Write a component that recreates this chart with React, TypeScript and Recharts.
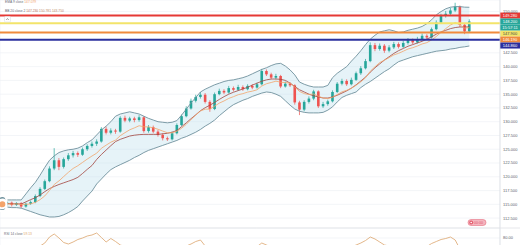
import { ComposedChart, Bar, Line, Area, XAxis, YAxis, CartesianGrid, ReferenceLine } from "recharts"

const opens = [
  114.8, 115.0, 115.3, 114.9, 115.2, 114.6, 115.1, 115.4, 116.5, 117.8,
  119.2, 121.5, 123.0, 121.8, 123.2, 123.9, 124.3, 124.0, 125.0, 125.6,
  126.0, 126.4, 128.7, 128.0, 128.4, 128.2, 130.7, 130.2, 130.6, 130.3,
  130.8, 128.3, 129.0, 128.2, 127.6, 127.0, 126.8, 127.9, 129.4, 131.0,
  132.4, 133.8, 134.5, 134.9, 133.6, 132.3, 135.0, 135.6, 135.3, 136.1,
  135.8, 136.3, 135.9, 136.5, 136.2, 136.8, 139.2, 138.6, 138.0, 138.3,
  136.4, 136.9, 136.6, 133.5, 132.2, 133.6, 134.2, 135.5, 132.8, 133.2,
  133.7, 135.4, 136.9, 137.4, 136.8, 137.6, 138.8, 139.7, 141.0, 143.9,
  143.2, 143.8, 142.9, 143.5, 144.1, 143.6, 144.3, 144.8, 144.4, 145.0,
  145.6, 145.3, 146.8, 148.0, 149.2, 149.6, 150.2, 150.9, 147.6, 146.4,
]
const closes = [
  115.0, 115.3, 114.9, 115.2, 114.6, 115.1, 115.4, 116.5, 117.8, 119.2,
  121.5, 123.0, 121.8, 123.2, 123.9, 124.3, 124.0, 125.0, 125.6, 126.0,
  126.4, 128.7, 128.0, 128.4, 128.2, 130.7, 130.2, 130.6, 130.3, 130.8,
  128.3, 129.0, 128.2, 127.6, 127.0, 126.8, 127.9, 129.4, 131.0, 132.4,
  133.8, 134.5, 134.9, 133.6, 132.3, 135.0, 135.6, 135.3, 136.1, 135.8,
  136.3, 135.9, 136.5, 136.2, 136.8, 139.2, 138.6, 138.0, 138.3, 136.4,
  136.9, 136.6, 133.5, 132.2, 133.6, 134.2, 135.5, 132.8, 133.2, 133.7,
  135.4, 136.9, 137.4, 136.8, 137.6, 138.8, 139.7, 141.0, 143.9, 143.2,
  143.8, 142.9, 143.5, 144.1, 143.6, 144.3, 144.8, 144.4, 145.0, 145.6,
  145.3, 146.8, 148.0, 149.2, 149.6, 150.2, 150.9, 147.6, 146.4, 148.2,
]
const highs = [
  115.3, 115.5, 115.5, 115.4, 115.4, 115.3, 115.7, 116.8, 118.1, 119.5,
  121.9, 125.2, 123.4, 123.5, 124.3, 124.7, 124.6, 125.3, 125.9, 126.4,
  126.8, 129.0, 129.1, 128.8, 128.7, 131.0, 131.1, 130.9, 130.9, 131.2,
  131.0, 129.4, 129.3, 128.5, 127.9, 127.3, 128.2, 129.7, 131.3, 132.8,
  134.2, 134.9, 135.4, 135.2, 133.9, 135.3, 136.0, 135.9, 136.5, 136.4,
  136.7, 136.6, 136.8, 136.8, 137.1, 139.6, 139.5, 138.9, 138.7, 138.5,
  137.3, 137.2, 136.8, 133.8, 133.9, 134.6, 135.8, 135.7, 133.6, 134.0,
  135.7, 137.2, 137.8, 137.7, 138.0, 139.1, 140.1, 141.4, 144.4, 144.3,
  144.2, 144.1, 143.9, 144.5, 144.4, 144.7, 145.2, 145.1, 145.4, 146.0,
  145.9, 147.1, 148.4, 149.6, 150.1, 150.7, 151.6, 151.1, 147.9, 148.6,
]
const lows = [
  114.6, 114.8, 114.6, 114.7, 114.3, 114.4, 114.9, 115.2, 116.3, 117.6,
  119.0, 121.2, 121.2, 121.5, 122.9, 123.5, 123.6, 123.8, 124.7, 125.3,
  125.6, 126.2, 127.7, 127.7, 127.8, 128.0, 129.9, 129.9, 129.9, 130.0,
  128.0, 128.0, 127.9, 127.3, 126.6, 126.5, 126.6, 127.7, 129.2, 130.8,
  132.2, 133.5, 134.2, 133.3, 131.8, 132.1, 134.8, 135.0, 135.1, 135.5,
  135.6, 135.6, 135.7, 135.9, 136.0, 136.6, 138.3, 137.7, 137.7, 136.1,
  136.2, 136.3, 133.1, 131.2, 131.9, 133.3, 133.9, 132.5, 132.5, 132.9,
  133.5, 135.2, 136.6, 136.5, 136.6, 137.4, 138.5, 139.5, 140.8, 142.8,
  142.9, 142.5, 142.6, 143.2, 143.3, 143.4, 144.0, 144.1, 144.2, 144.8,
  144.9, 145.1, 146.6, 147.8, 148.9, 149.3, 149.9, 147.2, 145.9, 146.1,
]

const bbUpper = [
  115.8, 115.8, 115.8, 115.8, 115.8, 116.9, 118.0, 119.0, 120.3, 121.7,
  123.0, 123.8, 124.4, 124.7, 124.9, 125.0, 125.2, 125.6, 126.2, 126.7,
  127.6, 128.5, 129.2, 130.0, 131.0, 131.4, 131.6, 131.8, 131.6, 131.4,
  131.0, 130.6, 130.3, 130.0, 129.9, 129.8, 129.9, 130.2, 131.2, 132.3,
  133.4, 134.4, 135.4, 135.9, 136.3, 136.7, 137.0, 137.3, 137.5, 137.6,
  137.8, 138.0, 138.3, 138.7, 139.1, 139.5, 139.8, 140.2, 140.5, 140.6,
  140.1, 139.4, 138.5, 137.2, 136.8, 136.5, 136.3, 136.3, 136.3, 136.6,
  138.0, 138.8, 139.4, 140.0, 141.0, 141.9, 142.9, 144.0, 145.0, 145.7,
  146.3, 146.5, 146.7, 146.5, 146.2, 146.3, 146.6, 146.8, 147.0, 147.3,
  147.8, 148.5, 149.4, 150.0, 150.5, 150.8, 150.9, 150.9, 150.8, 150.78,
]
const bbBasis = [
  115.15, 115.15, 115.1, 115.1, 115.05, 115.45, 115.85, 116.2, 116.7, 117.3,
  117.85, 118.25, 118.6, 118.9, 119.2, 119.5, 119.9, 120.6, 121.35, 122.05,
  123.15, 124.05, 124.85, 125.65, 126.4, 126.8, 127.1, 127.4, 127.55, 127.65,
  127.7, 127.7, 127.7, 127.7, 127.8, 127.9, 128.1, 128.4, 129.1, 129.8,
  130.55, 131.25, 132.0, 132.55, 133.0, 133.5, 134.05, 134.55, 135.0, 135.35,
  135.65, 135.95, 136.25, 136.65, 137.0, 137.35, 137.6, 137.75, 137.75, 137.7,
  137.5, 137.0, 136.4, 135.8, 135.4, 135.0, 134.7, 134.5, 134.3, 134.3,
  134.5, 134.8, 135.2, 135.6, 136.1, 136.7, 137.4, 138.1, 139.0, 139.8,
  140.5, 141.2, 141.8, 142.4, 142.9, 143.3, 143.7, 144.0, 144.3, 144.6,
  145.0, 145.4, 145.9, 146.3, 146.6, 146.9, 147.1, 147.2, 147.2, 147.23,
]
const bbLower = [
  114.5, 114.5, 114.4, 114.4, 114.3, 114.0, 113.7, 113.4, 113.1, 112.9,
  112.7, 112.7, 112.8, 113.1, 113.5, 114.0, 114.6, 115.6, 116.5, 117.4,
  118.7, 119.6, 120.5, 121.3, 121.8, 122.2, 122.6, 123.0, 123.5, 123.9,
  124.4, 124.8, 125.1, 125.4, 125.7, 126.0, 126.3, 126.6, 127.0, 127.3,
  127.7, 128.1, 128.6, 129.2, 129.7, 130.3, 131.1, 131.8, 132.5, 133.1,
  133.5, 133.9, 134.2, 134.6, 134.9, 135.2, 135.4, 135.3, 135.0, 134.6,
  133.8, 133.0, 132.3, 131.9, 131.7, 131.6, 131.6, 131.6, 131.7, 132.1,
  132.7, 133.6, 134.4, 134.8, 135.1, 135.4, 136.2, 136.8, 137.3, 137.9,
  138.5, 139.1, 139.6, 140.3, 140.9, 141.2, 141.5, 141.8, 142.0, 142.2,
  142.4, 142.6, 142.8, 142.9, 143.0, 143.2, 143.3, 143.5, 143.6, 143.75,
]
const ema9 = [
  115.0, 115.06, 115.03, 115.07, 114.97, 115.0, 115.08, 115.36, 115.85, 116.52,
  117.52, 118.61, 119.25, 120.04, 120.81, 121.51, 122.01, 122.61, 123.21, 123.77,
  124.29, 125.18, 125.74, 126.28, 126.66, 127.47, 128.01, 128.53, 128.88, 129.27,
  129.07, 129.06, 128.89, 128.63, 128.3, 128.0, 127.98, 128.27, 128.81, 129.53,
  130.39, 131.21, 131.95, 132.28, 132.28, 132.83, 133.38, 133.77, 134.23, 134.55,
  134.9, 135.1, 135.38, 135.55, 135.8, 136.48, 136.9, 137.12, 137.36, 137.17,
  137.11, 137.01, 136.31, 135.49, 135.11, 134.93, 135.04, 134.6, 134.32, 134.2,
  134.44, 134.93, 135.42, 135.7, 136.08, 136.62, 137.24, 137.99, 139.17, 139.98,
  140.74, 141.17, 141.64, 142.13, 142.42, 142.8, 143.2, 143.44, 143.75, 144.12,
  144.36, 144.85, 145.48, 146.22, 146.9, 147.56, 148.0, 147.6, 147.0, 147.08,
]
const rsi14 = [
  52, 55, 50, 54, 48, 53, 56, 60, 64, 70,
  82, 88, 80, 71, 68, 72, 77, 80, 84, 86,
  90, 81, 72, 79, 73, 66, 63, 62, 60, 61,
  50, 53, 48, 45, 42, 41, 47, 54, 60, 64,
  68, 73, 76, 64, 55, 63, 65, 62, 64, 61,
  63, 60, 62, 60, 63, 70, 66, 62, 63, 52,
  54, 52, 40, 36, 44, 47, 53, 42, 44, 47,
  55, 61, 63, 59, 62, 66, 70, 75, 82, 78,
  72, 66, 64, 65, 61, 63, 64, 61, 63, 65,
  63, 69, 73, 77, 79, 82, 76, 58, 52, 59.13,
]

const priceTicks = [112.5, 115, 117.5, 120, 122.5, 125, 127.5, 130, 132.5, 135, 137.5, 140, 142.5, 150]
const rsiTicks = [80]
const timeTicks = [5.5, 11.1, 16.8, 22.4, 28.1, 33.8, 39.4, 45.1, 50.7, 56.4, 62.1, 67.7, 73.4, 79.0, 84.7, 90.4, 96.0, 101.7]

// horizontal levels drawn on the chart
const levelPrices = [149.28, 147.9, 146.19, 144.86]
const levelColors = ["#e53935", "#f3e46a", "#f08a3c", "#2b2f9e"]
const levelTextColors = ["#ffffff", "#444444", "#ffffff", "#ffffff"]
const levelShift = [0, 10.35, 6.95, 5.65]

const font = "'Liberation Sans', Arial, sans-serif"
const UP = "#26a69a"
const DOWN = "#ef5350"

const rows = closes.map((close, i) => ({
  i,
  open: opens[i],
  high: highs[i],
  low: lows[i],
  close,
  range: [lows[i], highs[i]],
  band: [bbLower[i], bbUpper[i]],
  upper: bbUpper[i],
  lower: bbLower[i],
  basis: bbBasis[i],
  ema: ema9[i],
  rsi: rsi14[i],
}))

const lastClose = closes[closes.length - 1]

function Candle(props: any) {
  const { x, y, width, height, payload } = props
  if (x == null || y == null || !payload) return null
  const { open, close, high, low } = payload
  const color = close >= open ? UP : DOWN
  const ppu = height / Math.max(high - low, 0.0001)
  const top = y + (high - Math.max(open, close)) * ppu
  const bottom = y + (high - Math.min(open, close)) * ppu
  const cx = x + width / 2
  return (
    <g>
      <line x1={cx} x2={cx} y1={y} y2={y + height} stroke={color} strokeWidth={0.7} />
      <rect x={x} y={top} width={width} height={Math.max(bottom - top, 0.7)} fill={color} />
    </g>
  )
}

function PriceTag(props: any) {
  const { viewBox, color, textColor, text, shift, second } = props
  if (!viewBox) return null
  const x = viewBox.x + viewBox.width
  const y = viewBox.y + shift
  return (
    <g>
      <rect x={x} y={y - 3} width={20} height={6} fill={color} />
      <text x={x + 10} y={y + 1.5} textAnchor="middle" fontSize={4} fill={textColor} fontFamily={font}>
        {text}
      </text>
      {second && (
        <>
          <rect x={x} y={y + 3} width={20} height={6} fill={color} />
          <text x={x + 10} y={y + 7.5} textAnchor="middle" fontSize={4} fill={textColor} fontFamily={font}>
            {second}
          </text>
        </>
      )}
    </g>
  )
}

export default function App() {
  return (
    <div
      style={{
        position: "absolute",
        left: 0,
        top: 0,
        width: 520,
        height: 245,
        overflow: "hidden",
        background: "#ffffff",
      }}
    >
      <div style={{ position: "absolute", left: 0, top: 0 }}>
        <ComposedChart width={520} height={228} data={rows} margin={{ top: 0, right: 0, bottom: 0, left: 0 }}>
          <CartesianGrid stroke="#eef0f5" strokeWidth={0.7} />
          <XAxis
            type="number"
            dataKey="i"
            domain={[-0.5, 105.5]}
            ticks={timeTicks}
            allowDataOverflow
            tick={false}
            tickLine={false}
            axisLine={false}
            height={0}
          />
          <YAxis
            orientation="right"
            domain={[110.7, 152.1]}
            ticks={priceTicks}
            interval={0}
            allowDataOverflow
            width={20}
            tickSize={0}
            tickMargin={3}
            tickLine={false}
            axisLine={{ stroke: "#d8dbe2", strokeWidth: 0.7 }}
            tick={{ fontSize: 4, fill: "#5d606b", fontFamily: font }}
            tickFormatter={(v: number) => v.toFixed(3)}
          />
          <Area
            dataKey="band"
            stroke="none"
            fill="#b7dcec"
            fillOpacity={0.35}
            isAnimationActive={false}
          />
          <Line dataKey="upper" stroke="#6f919d" strokeWidth={0.9} dot={false} isAnimationActive={false} />
          <Line dataKey="lower" stroke="#6f919d" strokeWidth={0.9} dot={false} isAnimationActive={false} />
          <Line dataKey="basis" stroke="#a2443d" strokeWidth={0.8} dot={false} isAnimationActive={false} />
          <Line dataKey="ema" stroke="#f3a46b" strokeWidth={0.8} dot={false} isAnimationActive={false} />
          {levelPrices.map((p, k) => (
            <ReferenceLine
              key={p}
              y={p}
              stroke={levelColors[k]}
              strokeWidth={2}
              label={
                <PriceTag
                  color={levelColors[k]}
                  textColor={levelTextColors[k]}
                  text={p.toFixed(3)}
                  shift={levelShift[k]}
                />
              }
            />
          ))}
          <ReferenceLine
            y={lastClose}
            stroke={UP}
            strokeOpacity={0}
            label={<PriceTag color={UP} textColor="#ffffff" text={lastClose.toFixed(3)} second="15:57:11" shift={0} />}
          />
          <Bar dataKey="range" shape={<Candle />} barSize={2.6} isAnimationActive={false} />
        </ComposedChart>
      </div>

      <div style={{ position: "absolute", left: 0, top: 228 }}>
        <ComposedChart width={520} height={50} data={rows} margin={{ top: 0, right: 0, bottom: 0, left: 0 }}>
          <CartesianGrid stroke="#eef0f5" strokeWidth={0.7} />
          <XAxis
            type="number"
            dataKey="i"
            domain={[-0.5, 105.5]}
            ticks={timeTicks}
            allowDataOverflow
            tick={false}
            tickLine={false}
            axisLine={false}
            height={0}
          />
          <YAxis
            orientation="right"
            domain={[0, 100]}
            ticks={rsiTicks}
            interval={0}
            width={20}
            tickSize={0}
            tickMargin={3}
            tickLine={false}
            axisLine={{ stroke: "#d8dbe2", strokeWidth: 0.7 }}
            tick={{ fontSize: 4, fill: "#5d606b", fontFamily: font }}
            tickFormatter={(v: number) => v.toFixed(2)}
          />
          <Line dataKey="rsi" stroke="#dca56c" strokeWidth={0.8} dot={false} isAnimationActive={false} />
        </ComposedChart>
      </div>

      <svg
        width={520}
        height={245}
        style={{ position: "absolute", left: 0, top: 0, pointerEvents: "none" }}
        fontFamily={font}
      >
        <text x={5} y={3.4} fontSize={3.3} fill="#6a6d78">
          EMA 9 close <tspan fill="#f3a46b">147.079</tspan>
        </text>
        <text x={5} y={12.2} fontSize={3.3} fill="#6a6d78">
          BB 20 close 2 <tspan fill="#b8735a">147.230</tspan> <tspan fill="#c08a6a">150.781</tspan>{" "}
          <tspan fill="#c08a6a">143.750</tspan>
        </text>
        <rect x={4.5} y={16.5} width={6} height={5.5} rx={1} fill="#ffffff" stroke="#d6d8de" strokeWidth={0.5} />
        <path d="M6.2 20 L7.5 18.5 L8.8 20" fill="none" stroke="#555" strokeWidth={0.5} />

        <line x1={0} x2={520} y1={228} y2={228} stroke="#dfe1e6" strokeWidth={0.8} />
        <text x={4} y={234.5} fontSize={3.3} fill="#6a6d78">
          RSI 14 close <tspan fill="#dca56c">59.13</tspan>
        </text>

        <rect x={468} y={219.5} width={18} height={6} rx={3} fill="#f4b6bf" stroke="#e35d6f" strokeWidth={0.5} />
        <circle cx={471.2} cy={222.5} r={2} fill="#e35d6f" />
        <circle cx={471.2} cy={222.5} r={0.8} fill="#ffffff" />
        <text x={474} y={224} fontSize={3.6} fill="#e35d6f">
          00:00
        </text>
      </svg>
    </div>
  )
}
